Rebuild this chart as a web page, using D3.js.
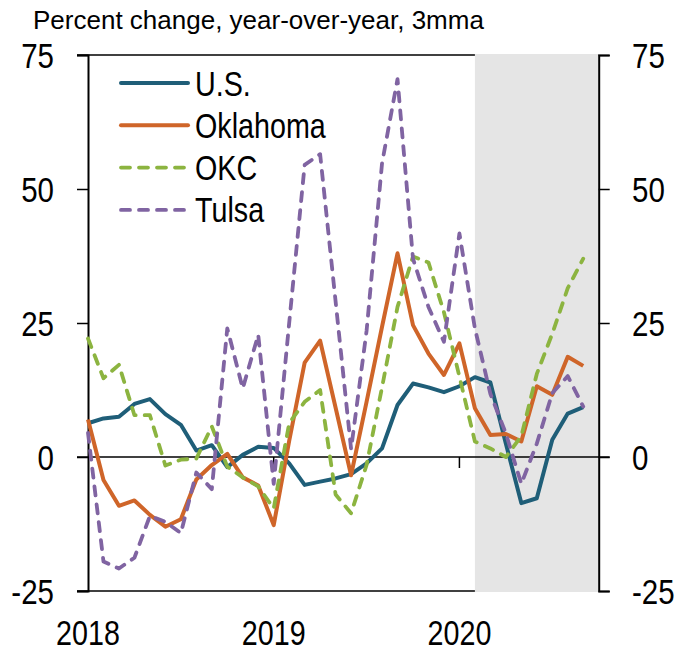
<!DOCTYPE html>
<html>
<head>
<meta charset="utf-8">
<script src="https://cdn.jsdelivr.net/npm/d3@7"></script>
<style>
    body { margin: 0; background: #fff; }
    svg { display: block; }
</style>
</head>
<body>
<div id="chart"></div>
<script>
// months on the x axis, Jan 2018 .. Sep 2020
var months = ["2018-01", "2018-02", "2018-03", "2018-04", "2018-05", "2018-06", "2018-07", "2018-08", "2018-09", "2018-10", "2018-11", "2018-12",
    "2019-01", "2019-02", "2019-03", "2019-04", "2019-05", "2019-06", "2019-07", "2019-08", "2019-09", "2019-10", "2019-11", "2019-12",
    "2020-01", "2020-02", "2020-03", "2020-04", "2020-05", "2020-06", "2020-07", "2020-08", "2020-09"];

var us = [6.3, 7.2, 7.5, 9.9, 10.8, 8.0, 6.0, 1.2, 2.2, -1.9, 0.4, 1.9, 1.7, -1.2, -5.2, -4.6, -4.0, -3.2, -1.2, 1.6, 9.7, 13.7, 13.0, 12.1, 13.2, 14.9, 13.9, 2.5, -8.6, -7.7, 3.2, 8.1, 9.3];
var oklahoma = [7.0, -4.3, -9.1, -8.1, -10.8, -13.0, -11.6, -4.2, -1.5, 0.6, -3.8, -5.3, -12.7, 3.0, 17.6, 21.7, 9.2, -3.4, 10.3, 24.3, 38.0, 24.6, 19.3, 15.3, 21.2, 9.1, 4.1, 4.3, 2.9, 13.2, 11.6, 18.7, 17.0];
var okc = [22.1, 14.7, 17.2, 7.8, 7.8, -1.6, -0.5, -0.3, 5.7, -1.8, -3.8, -5.5, -9.6, 6.3, 10.3, 12.5, -7.0, -10.5, -1.5, 13.0, 28.0, 37.4, 36.3, 27.0, 15.0, 2.9, 1.6, 0.0, 3.9, 15.5, 23.0, 31.5, 37.0];
var tulsa = [4.5, -19.5, -20.8, -18.8, -11.0, -12.1, -14.2, -2.9, -6.0, 24.0, 12.8, 22.8, -5.0, 25.0, 54.5, 56.5, 29.0, 1.5, 23.5, 54.8, 70.5, 37.0, 28.0, 21.5, 41.7, 24.0, 11.8, 4.4, -5.0, 2.5, 11.9, 15.1, 9.4];

var seriesNames = ["U.S.", "Oklahoma", "OKC", "Tulsa"];
var yTicks = [-25, 0, 25, 50, 75];
var yearLabels = ["2018", "2019", "2020"];
var shadeStart = "2020-02";

var width = 677, height = 653;
var plotLeft = 88, plotRight = 598.7, plotTop = 55, plotBottom = 591;
var font = "'Liberation Sans', Arial, sans-serif";
var squeeze = 0.82; // narrow look, no condensed font installed

var svg = d3.select("#chart").append("svg")
    .attr("width", width)
    .attr("height", height);

//scales: one step per month, right edge one month past the last point
var xScale = d3.scaleLinear().domain([0, months.length]).range([plotLeft, plotRight]);
var yScale = d3.scaleLinear().domain([-25, 75]).range([plotBottom, plotTop]);

//helper for condensed text
function narrowText(parent, x, y, txt, size, anchor) {
    return parent.append("text")
        .attr("transform", "translate(" + x + "," + y + ") scale(" + squeeze + ",1)")
        .attr("text-anchor", anchor || "start")
        .attr("font-family", font)
        .attr("font-size", size + "px")
        .attr("fill", "#000")
        .text(txt);
}

//frame top and bottom
svg.append("line").attr("x1", plotLeft - 11).attr("x2", plotRight).attr("y1", plotTop).attr("y2", plotTop)
    .attr("stroke", "#000").attr("stroke-width", 1.5);
svg.append("line").attr("x1", plotLeft - 11).attr("x2", plotRight).attr("y1", plotBottom).attr("y2", plotBottom)
    .attr("stroke", "#000").attr("stroke-width", 1.5);

//shaded period
var s = months.indexOf(shadeStart);
svg.append("rect")
    .attr("x", xScale(s))
    .attr("y", plotTop - 1)
    .attr("width", plotRight - xScale(s))
    .attr("height", plotBottom - plotTop + 2)
    .attr("fill", "#e5e5e5");

//axes (ticks only, labels drawn below)
var yAxisLeft = d3.axisLeft(yScale).tickValues(yTicks).tickSize(11).tickFormat("");
var gl = svg.append("g").attr("transform", "translate(" + plotLeft + ",0)").call(yAxisLeft);
var yAxisRight = d3.axisRight(yScale).tickValues(yTicks).tickSize(11).tickFormat("");
var gr = svg.append("g").attr("transform", "translate(" + plotRight + ",0)").call(yAxisRight);

[gl, gr].forEach(function (g) {
    g.select(".domain").attr("stroke", "#000").attr("stroke-width", 2);
    g.selectAll(".tick line").attr("stroke", "#000").attr("stroke-width", 1.5);
});

yTicks.forEach(function (t) {
    narrowText(svg, 54, yScale(t) + 13, t, 36, "end");
    narrowText(svg, 632, yScale(t) + 13, t, 36, "start");
});

//zero line across the plot
svg.append("line")
    .attr("x1", plotLeft - 11).attr("x2", plotRight + 11)
    .attr("y1", yScale(0)).attr("y2", yScale(0))
    .attr("stroke", "#000").attr("stroke-width", 1.5);

//year ticks hanging below the zero line
var yearIdx = yearLabels.map(function (y) { return months.indexOf(y + "-01"); });
svg.selectAll(".ytick").data(yearIdx.slice(1)).enter().append("line")
    .attr("x1", function (d) { return xScale(d); })
    .attr("x2", function (d) { return xScale(d); })
    .attr("y1", yScale(0))
    .attr("y2", yScale(0) + 11)
    .attr("stroke", "#000").attr("stroke-width", 1.5);

yearLabels.forEach(function (d, i) {
    narrowText(svg, xScale(yearIdx[i]), 645, d, 35, "middle");
});

//lines
var series = [
    {name: seriesNames[0], values: us, color: "#1f5e78", dash: null},
    {name: seriesNames[1], values: oklahoma, color: "#cf6529", dash: null},
    {name: seriesNames[2], values: okc, color: "#8cb440", dash: "9,9"},
    {name: seriesNames[3], values: tulsa, color: "#8064a2", dash: "9,9"}
];

var lineGen = d3.line()
    .x(function (d, i) { return xScale(i); })
    .y(function (d) { return yScale(d); });

series.forEach(function (sr) {
    svg.append("path")
        .datum(sr.values)
        .attr("d", lineGen)
        .attr("fill", "none")
        .attr("stroke", sr.color)
        .attr("stroke-width", sr.dash ? 3.8 : 4)
        .attr("stroke-linejoin", "round")
        .attr("stroke-linecap", sr.dash ? "round" : "butt")
        .attr("stroke-dasharray", sr.dash);
});

//legend
var legend = svg.append("g");
series.forEach(function (sr, i) {
    var ly = 83 + i * 42.3;
    legend.append("line")
        .attr("x1", 121).attr("x2", 188)
        .attr("y1", ly).attr("y2", ly)
        .attr("stroke", sr.color)
        .attr("stroke-width", sr.dash ? 3.8 : 4)
        .attr("stroke-linecap", "round")
        .attr("stroke-dasharray", sr.dash);
    narrowText(legend, 195, ly + 12.5, sr.name, 35, "start");
});

//title
svg.append("text")
    .attr("x", 33)
    .attr("y", 29)
    .attr("font-family", font)
    .attr("font-size", "26px")
    .text("Percent change, year-over-year, 3mma");
</script>
</body>
</html>
